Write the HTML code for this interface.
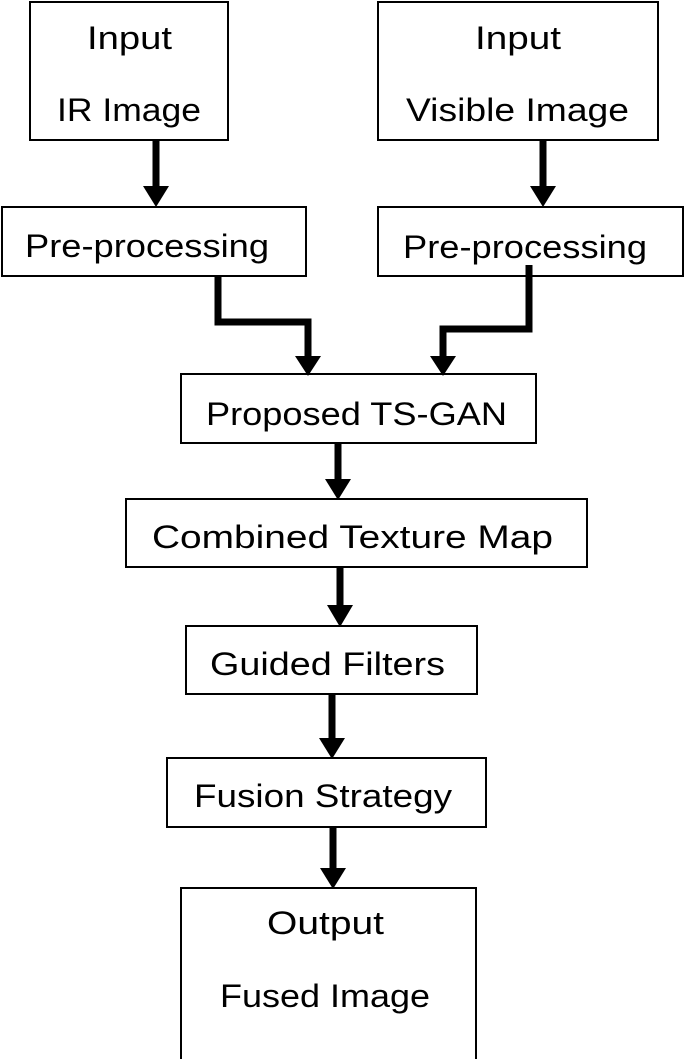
<!DOCTYPE html>
<html><head><meta charset="utf-8"><style>html,body{margin:0;padding:0;background:#fff}svg{display:block}</style></head>
<body>
<svg width="685" height="1059" viewBox="0 0 685 1059" xmlns="http://www.w3.org/2000/svg" font-family="'Liberation Sans', sans-serif" fill="#000">
<g fill="none" stroke="#000" stroke-width="2">
<rect x="30" y="2" width="198" height="138"/>
<rect x="378" y="2" width="280" height="138"/>
<rect x="2" y="207" width="304" height="69"/>
<rect x="378" y="207" width="305" height="69"/>
<rect x="181" y="374" width="355" height="69"/>
<rect x="126" y="499" width="461" height="68"/>
<rect x="186" y="626" width="291" height="68"/>
<rect x="167" y="758" width="319" height="69"/>
<rect x="181" y="888" width="295" height="175"/>
</g>
<g fill="none" stroke="#000" stroke-width="7">
<line x1="156" y1="140" x2="156" y2="188"/>
<line x1="543" y1="140" x2="543" y2="188"/>
<polyline points="218,276 218,322 308,322 308,358"/>
<polyline points="529,265 529,329 443,329 443,358"/>
<line x1="338" y1="443" x2="338" y2="481"/>
<line x1="340" y1="567" x2="340" y2="607"/>
<line x1="332" y1="694" x2="332" y2="740"/>
<line x1="333" y1="827" x2="333" y2="870"/>
</g>
<g>
<polygon points="143,186 169,186 156,207"/>
<polygon points="530,186 556,186 543,207"/>
<polygon points="295,356 321,356 308,376"/>
<polygon points="430,356 456,356 443,376"/>
<polygon points="325,479 351,479 338,500"/>
<polygon points="327,605 353,605 340,627"/>
<polygon points="319,738 345,738 332,759"/>
<polygon points="320,868 346,868 333,889"/>
</g>
<g font-size="32">
<text x="87" y="49" textLength="85" lengthAdjust="spacingAndGlyphs">Input</text>
<text x="57" y="121" textLength="144" lengthAdjust="spacingAndGlyphs">IR Image</text>
<text x="475" y="49" textLength="86" lengthAdjust="spacingAndGlyphs">Input</text>
<text x="406" y="121" textLength="223" lengthAdjust="spacingAndGlyphs">Visible Image</text>
<text x="25" y="257" textLength="244" lengthAdjust="spacingAndGlyphs">Pre-processing</text>
<text x="403" y="258" textLength="244" lengthAdjust="spacingAndGlyphs">Pre-processing</text>
<text x="206" y="425" textLength="301" lengthAdjust="spacingAndGlyphs">Proposed TS-GAN</text>
<text x="152" y="548" textLength="401" lengthAdjust="spacingAndGlyphs">Combined Texture Map</text>
<text x="210" y="675" textLength="235" lengthAdjust="spacingAndGlyphs">Guided Filters</text>
<text x="194" y="807" textLength="258" lengthAdjust="spacingAndGlyphs">Fusion Strategy</text>
<text x="267" y="934" textLength="117" lengthAdjust="spacingAndGlyphs">Output</text>
<text x="220" y="1007" textLength="210" lengthAdjust="spacingAndGlyphs">Fused Image</text>
</g>
</svg>
</body></html>
